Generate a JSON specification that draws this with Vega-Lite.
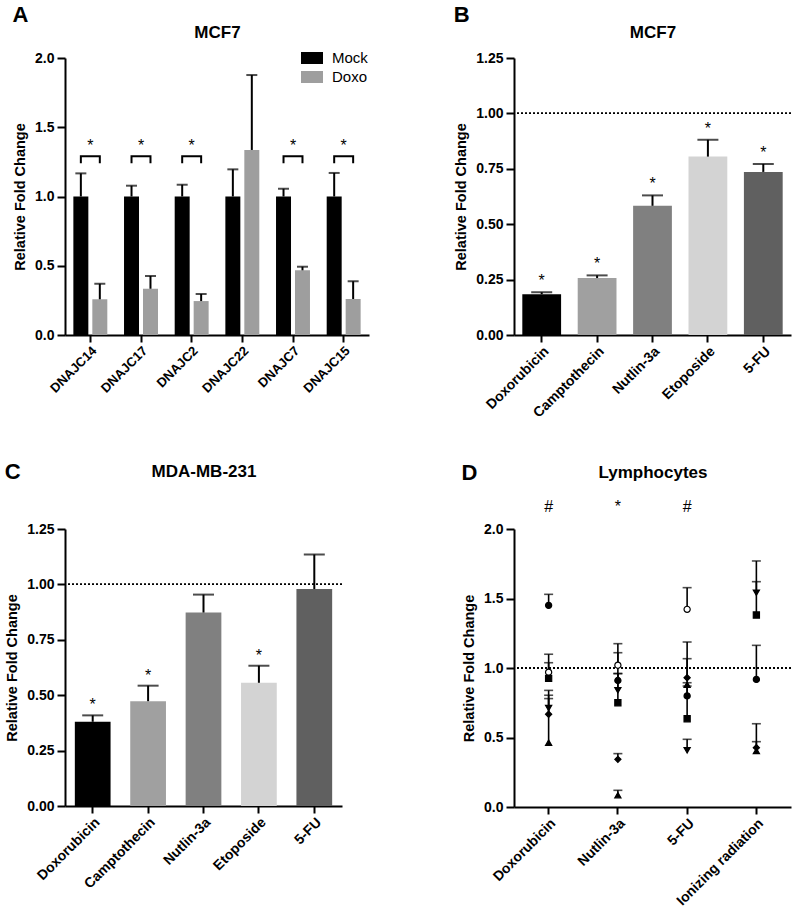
{
  "$schema": "https://vega.github.io/schema/vega-lite/v6.json",
  "padding": {"left": 4, "top": 4, "right": 5, "bottom": 5},
  "background": "white",
  "columns": 2,
  "align": "each",
  "spacing": {"row": 41, "column": 84},
  "resolve": {"scale": {"color": "independent", "shape": "independent"}, "legend": {"color": "independent", "shape": "independent"}},
  "config": {
    "font": "Liberation Sans",
    "view": {"stroke": null},
    "axis": {"domainColor": "#000", "domainWidth": 2, "tickColor": "#000", "tickWidth": 2, "tickSize": 7, "labelColor": "#000", "labelFont": "Liberation Sans", "labelFontWeight": "bold", "labelFontSize": 14, "titleColor": "#000", "titleFont": "Liberation Sans", "titleFontWeight": "bold", "titleFontSize": 14.5, "grid": false},
    "axisX": {"labelAngle": -45, "labelPadding": 2},
    "axisY": {"labelPadding": 3, "titlePadding": 7, "tickSize": 8},
    "title": {"font": "Liberation Sans", "fontSize": 22, "fontWeight": "bold", "anchor": "start", "frame": "bounds", "color": "#000", "baseline": "bottom"}
  },
  "concat": [
    {
      "title": {"text": "A", "offset": -4},
      "width": 304,
      "height": 277,
      "data": {"values": [
        {"gene": "DNAJC14", "group": "Mock", "value": 1.0, "err": 1.167},
        {"gene": "DNAJC14", "group": "Doxo", "value": 0.258, "err": 0.37},
        {"gene": "DNAJC17", "group": "Mock", "value": 1.0, "err": 1.078},
        {"gene": "DNAJC17", "group": "Doxo", "value": 0.334, "err": 0.426},
        {"gene": "DNAJC2", "group": "Mock", "value": 1.0, "err": 1.085},
        {"gene": "DNAJC2", "group": "Doxo", "value": 0.245, "err": 0.296},
        {"gene": "DNAJC22", "group": "Mock", "value": 1.0, "err": 1.196},
        {"gene": "DNAJC22", "group": "Doxo", "value": 1.336, "err": 1.877},
        {"gene": "DNAJC7", "group": "Mock", "value": 1.0, "err": 1.056},
        {"gene": "DNAJC7", "group": "Doxo", "value": 0.467, "err": 0.493},
        {"gene": "DNAJC15", "group": "Mock", "value": 1.0, "err": 1.17},
        {"gene": "DNAJC15", "group": "Doxo", "value": 0.26, "err": 0.388}
      ]},
      "layer": [
        {
          "mark": {"type": "bar"},
          "encoding": {
            "x": {"field": "gene", "type": "nominal", "title": null, "scale": {"domain": ["DNAJC14", "DNAJC17", "DNAJC2", "DNAJC22", "DNAJC7", "DNAJC15"], "paddingInner": 0.33, "paddingOuter": 0.165}, "axis": {"orient": "bottom", "labelFontSize": 13}},
            "xOffset": {"field": "group", "type": "nominal", "scale": {"domain": ["Mock", "Doxo"], "paddingInner": 0.21, "paddingOuter": 0}},
            "y": {"field": "value", "type": "quantitative", "title": "Relative Fold Change", "scale": {"domain": [0, 2], "nice": false}, "axis": {"values": [0, 0.5, 1, 1.5, 2], "format": ".1f"}},
            "color": {"field": "group", "type": "nominal", "scale": {"domain": ["Mock", "Doxo"], "range": ["#000000", "#9e9e9e"]},
              "legend": {"orient": "none", "legendX": 237, "legendY": -10, "title": null, "padding": 0, "symbolType": "M-1.1,-0.6H1.1V0.6H-1.1Z", "symbolSize": 400, "symbolStrokeWidth": 0, "labelFontSize": 15, "labelFont": "Liberation Sans", "labelFontWeight": "normal", "labelColor": "#000", "labelOffset": 10, "rowPadding": 1}}
          }
        },
        {
          "mark": {"type": "rule", "color": "#000", "strokeWidth": 2},
          "encoding": {
            "x": {"field": "gene", "type": "nominal", "axis": null},
            "xOffset": {"field": "group", "type": "nominal"},
            "y": {"field": "value", "type": "quantitative"},
            "y2": {"field": "err"}
          }
        },
        {
          "mark": {"type": "tick", "color": "#000", "thickness": 2, "size": 11},
          "encoding": {
            "x": {"field": "gene", "type": "nominal", "axis": null},
            "xOffset": {"field": "group", "type": "nominal"},
            "y": {"field": "err", "type": "quantitative"}
          }
        },
        {
          "data": {"values": [
            {"gene": "DNAJC14", "group": "Mock", "y": 1.24, "o": 1},
            {"gene": "DNAJC14", "group": "Mock", "y": 1.29, "o": 2},
            {"gene": "DNAJC14", "group": "Doxo", "y": 1.29, "o": 3},
            {"gene": "DNAJC14", "group": "Doxo", "y": 1.24, "o": 4},
            {"gene": "DNAJC17", "group": "Mock", "y": 1.24, "o": 1},
            {"gene": "DNAJC17", "group": "Mock", "y": 1.29, "o": 2},
            {"gene": "DNAJC17", "group": "Doxo", "y": 1.29, "o": 3},
            {"gene": "DNAJC17", "group": "Doxo", "y": 1.24, "o": 4},
            {"gene": "DNAJC2", "group": "Mock", "y": 1.24, "o": 1},
            {"gene": "DNAJC2", "group": "Mock", "y": 1.29, "o": 2},
            {"gene": "DNAJC2", "group": "Doxo", "y": 1.29, "o": 3},
            {"gene": "DNAJC2", "group": "Doxo", "y": 1.24, "o": 4},
            {"gene": "DNAJC7", "group": "Mock", "y": 1.24, "o": 1},
            {"gene": "DNAJC7", "group": "Mock", "y": 1.29, "o": 2},
            {"gene": "DNAJC7", "group": "Doxo", "y": 1.29, "o": 3},
            {"gene": "DNAJC7", "group": "Doxo", "y": 1.24, "o": 4},
            {"gene": "DNAJC15", "group": "Mock", "y": 1.24, "o": 1},
            {"gene": "DNAJC15", "group": "Mock", "y": 1.29, "o": 2},
            {"gene": "DNAJC15", "group": "Doxo", "y": 1.29, "o": 3},
            {"gene": "DNAJC15", "group": "Doxo", "y": 1.24, "o": 4}
          ]},
          "mark": {"type": "line", "color": "#000", "strokeWidth": 2},
          "encoding": {
            "x": {"field": "gene", "type": "nominal", "axis": null},
            "xOffset": {"field": "group", "type": "nominal"},
            "y": {"field": "y", "type": "quantitative"},
            "detail": {"field": "gene"},
            "order": {"field": "o", "type": "quantitative"}
          }
        },
        {
          "data": {"values": [
            {"gene": "DNAJC14", "sig": "*", "h": 1.29},
            {"gene": "DNAJC17", "sig": "*", "h": 1.29},
            {"gene": "DNAJC2", "sig": "*", "h": 1.29},
            {"gene": "DNAJC7", "sig": "*", "h": 1.29},
            {"gene": "DNAJC15", "sig": "*", "h": 1.29}
          ]},
          "mark": {"type": "text", "fontSize": 16, "color": "#000", "baseline": "alphabetic", "dy": -5},
          "encoding": {
            "x": {"field": "gene", "type": "nominal", "axis": {"orient": "top", "title": "MCF7", "labels": false, "ticks": false, "domain": false, "titlePadding": 17, "titleFontSize": 17}},
            "y": {"field": "h", "type": "quantitative"},
            "text": {"field": "sig"}
          }
        }
      ]
    },
    {
      "title": {"text": "B", "offset": -4},
      "width": 277,
      "height": 277,
      "data": {"values": [
        {"drug": "Doxorubicin", "value": 0.184, "err": 0.193, "sig": "*"},
        {"drug": "Camptothecin", "value": 0.257, "err": 0.269, "sig": "*"},
        {"drug": "Nutlin-3a", "value": 0.583, "err": 0.63, "sig": "*"},
        {"drug": "Etoposide", "value": 0.805, "err": 0.881, "sig": "*"},
        {"drug": "5-FU", "value": 0.736, "err": 0.772, "sig": "*"}
      ]},
      "layer": [
        {
          "mark": {"type": "bar"},
          "encoding": {
            "x": {"field": "drug", "type": "nominal", "title": null, "scale": {"domain": ["Doxorubicin", "Camptothecin", "Nutlin-3a", "Etoposide", "5-FU"], "paddingInner": 0.3, "paddingOuter": 0.15}, "axis": {"orient": "bottom"}},
            "y": {"field": "value", "type": "quantitative", "title": "Relative Fold Change", "scale": {"domain": [0, 1.25], "nice": false}, "axis": {"values": [0, 0.25, 0.5, 0.75, 1, 1.25], "format": ".2f"}},
            "color": {"field": "drug", "type": "nominal", "legend": null, "scale": {"domain": ["Doxorubicin", "Camptothecin", "Nutlin-3a", "Etoposide", "5-FU"], "range": ["#000000", "#a0a0a0", "#808080", "#d3d3d3", "#606060"]}}
          }
        },
        {
          "mark": {"type": "rule", "color": "#000", "strokeWidth": 1.3, "strokeDash": [2, 2]},
          "encoding": {"y": {"datum": 1}}
        },
        {
          "mark": {"type": "rule", "color": "#000", "strokeWidth": 2},
          "encoding": {
            "x": {"field": "drug", "type": "nominal", "axis": null},
            "y": {"field": "value", "type": "quantitative"},
            "y2": {"field": "err"}
          }
        },
        {
          "mark": {"type": "tick", "color": "#000", "thickness": 2, "size": 21},
          "encoding": {
            "x": {"field": "drug", "type": "nominal", "axis": null},
            "y": {"field": "err", "type": "quantitative"}
          }
        },
        {
          "mark": {"type": "text", "fontSize": 16, "color": "#000", "baseline": "alphabetic", "dy": -6},
          "encoding": {
            "x": {"field": "drug", "type": "nominal", "axis": {"orient": "top", "title": "MCF7", "labels": false, "ticks": false, "domain": false, "titlePadding": 17, "titleFontSize": 17}},
            "y": {"field": "err", "type": "quantitative"},
            "text": {"field": "sig"}
          }
        }
      ]
    },
    {
      "title": {"text": "C", "offset": -22},
      "width": 277,
      "height": 277,
      "data": {"values": [
        {"drug": "Doxorubicin", "value": 0.38, "err": 0.409, "sig": "*"},
        {"drug": "Camptothecin", "value": 0.473, "err": 0.543, "sig": "*"},
        {"drug": "Nutlin-3a", "value": 0.873, "err": 0.954, "sig": ""},
        {"drug": "Etoposide", "value": 0.556, "err": 0.633, "sig": "*"},
        {"drug": "5-FU", "value": 0.979, "err": 1.135, "sig": ""}
      ]},
      "layer": [
        {
          "mark": {"type": "bar"},
          "encoding": {
            "x": {"field": "drug", "type": "nominal", "title": null, "scale": {"domain": ["Doxorubicin", "Camptothecin", "Nutlin-3a", "Etoposide", "5-FU"], "paddingInner": 0.355, "paddingOuter": 0.1775}, "axis": {"orient": "bottom"}},
            "y": {"field": "value", "type": "quantitative", "title": "Relative Fold Change", "scale": {"domain": [0, 1.25], "nice": false}, "axis": {"values": [0, 0.25, 0.5, 0.75, 1, 1.25], "format": ".2f"}},
            "color": {"field": "drug", "type": "nominal", "legend": null, "scale": {"domain": ["Doxorubicin", "Camptothecin", "Nutlin-3a", "Etoposide", "5-FU"], "range": ["#000000", "#a0a0a0", "#808080", "#d3d3d3", "#606060"]}}
          }
        },
        {
          "mark": {"type": "rule", "color": "#000", "strokeWidth": 1.3, "strokeDash": [2, 2]},
          "encoding": {"y": {"datum": 1}}
        },
        {
          "mark": {"type": "rule", "color": "#000", "strokeWidth": 2},
          "encoding": {
            "x": {"field": "drug", "type": "nominal", "axis": null},
            "y": {"field": "value", "type": "quantitative"},
            "y2": {"field": "err"}
          }
        },
        {
          "mark": {"type": "tick", "color": "#000", "thickness": 2, "size": 21},
          "encoding": {
            "x": {"field": "drug", "type": "nominal", "axis": null},
            "y": {"field": "err", "type": "quantitative"}
          }
        },
        {
          "mark": {"type": "text", "fontSize": 16, "color": "#000", "baseline": "alphabetic", "dy": -5},
          "encoding": {
            "x": {"field": "drug", "type": "nominal", "axis": {"orient": "top", "title": "MDA-MB-231", "labels": false, "ticks": false, "domain": false, "titlePadding": 49, "titleFontSize": 17}},
            "y": {"field": "err", "type": "quantitative"},
            "text": {"field": "sig"}
          }
        }
      ]
    },
    {
      "title": {"text": "D", "offset": -22},
      "width": 277,
      "height": 278,
      "data": {"values": [
        {"treatment": "Doxorubicin", "donor": "circle", "value": 1.451, "err": 1.53},
        {"treatment": "Doxorubicin", "donor": "open", "value": 0.97, "err": 1.099},
        {"treatment": "Doxorubicin", "donor": "square", "value": 0.925, "err": 1.038},
        {"treatment": "Doxorubicin", "donor": "tri-down", "value": 0.712, "err": 0.804},
        {"treatment": "Doxorubicin", "donor": "diamond", "value": 0.667, "err": 0.78},
        {"treatment": "Doxorubicin", "donor": "tri-up", "value": 0.463, "err": 0.839},
        {"treatment": "Nutlin-3a", "donor": "open", "value": 1.02, "err": 1.11},
        {"treatment": "Nutlin-3a", "donor": "circle", "value": 0.91, "err": 0.96},
        {"treatment": "Nutlin-3a", "donor": "tri-down", "value": 0.84, "err": 0.96},
        {"treatment": "Nutlin-3a", "donor": "square", "value": 0.75, "err": 1.175},
        {"treatment": "Nutlin-3a", "donor": "diamond", "value": 0.343, "err": 0.384},
        {"treatment": "Nutlin-3a", "donor": "tri-up", "value": 0.085, "err": 0.12},
        {"treatment": "5-FU", "donor": "open", "value": 1.422, "err": 1.578},
        {"treatment": "5-FU", "donor": "diamond", "value": 0.93, "err": 1.067},
        {"treatment": "5-FU", "donor": "tri-up", "value": 0.88, "err": 1.187},
        {"treatment": "5-FU", "donor": "circle", "value": 0.799, "err": 0.894},
        {"treatment": "5-FU", "donor": "square", "value": 0.635, "err": 0.87},
        {"treatment": "5-FU", "donor": "tri-down", "value": 0.408, "err": 0.487},
        {"treatment": "Ionizing radiation", "donor": "tri-down", "value": 1.542, "err": 1.621},
        {"treatment": "Ionizing radiation", "donor": "square", "value": 1.381, "err": 1.77},
        {"treatment": "Ionizing radiation", "donor": "circle", "value": 0.918, "err": 1.163},
        {"treatment": "Ionizing radiation", "donor": "diamond", "value": 0.427, "err": 0.47},
        {"treatment": "Ionizing radiation", "donor": "tri-up", "value": 0.403, "err": 0.599}
      ]},
      "layer": [
        {
          "mark": {"type": "rule", "color": "#000", "strokeWidth": 1.3, "strokeDash": [2, 2]},
          "encoding": {"y": {"datum": 1}}
        },
        {
          "mark": {"type": "rule", "color": "#000", "strokeWidth": 1.6},
          "encoding": {
            "x": {"field": "treatment", "type": "nominal", "title": null, "scale": {"domain": ["Doxorubicin", "Nutlin-3a", "5-FU", "Ionizing radiation"], "paddingInner": 0.5, "paddingOuter": 0.25}, "axis": {"orient": "bottom"}},
            "y": {"field": "value", "type": "quantitative", "title": "Relative Fold Change", "scale": {"domain": [0, 2], "nice": false}, "axis": {"values": [0, 0.5, 1, 1.5, 2], "format": ".1f"}},
            "y2": {"field": "err"}
          }
        },
        {
          "mark": {"type": "tick", "color": "#000", "thickness": 1.6, "size": 9},
          "encoding": {
            "x": {"field": "treatment", "type": "nominal", "axis": null},
            "y": {"field": "err", "type": "quantitative"}
          }
        },
        {
          "mark": {"type": "point", "filled": true, "stroke": "#000", "strokeWidth": 1.2, "size": 38, "opacity": 1},
          "encoding": {
            "x": {"field": "treatment", "type": "nominal", "axis": null},
            "y": {"field": "value", "type": "quantitative"},
            "shape": {"field": "donor", "type": "nominal", "legend": null, "scale": {"domain": ["circle", "open", "square", "tri-up", "tri-down", "diamond"], "range": ["circle", "circle", "square", "triangle-up", "triangle-down", "diamond"]}},
            "color": {"field": "donor", "type": "nominal", "legend": null, "scale": {"domain": ["circle", "open", "square", "tri-up", "tri-down", "diamond"], "range": ["#000000", "#ffffff", "#000000", "#000000", "#000000", "#000000"]}}
          }
        },
        {
          "data": {"values": [
            {"treatment": "Doxorubicin", "sig": "#"},
            {"treatment": "Nutlin-3a", "sig": "*"},
            {"treatment": "5-FU", "sig": "#"}
          ]},
          "mark": {"type": "text", "fontSize": 16, "color": "#000", "baseline": "alphabetic", "dy": -17},
          "encoding": {
            "x": {"field": "treatment", "type": "nominal", "axis": {"orient": "top", "title": "Lymphocytes", "labels": false, "ticks": false, "domain": false, "titlePadding": 48, "titleFontSize": 17}},
            "y": {"datum": 2},
            "text": {"field": "sig"}
          }
        }
      ]
    }
  ]
}
